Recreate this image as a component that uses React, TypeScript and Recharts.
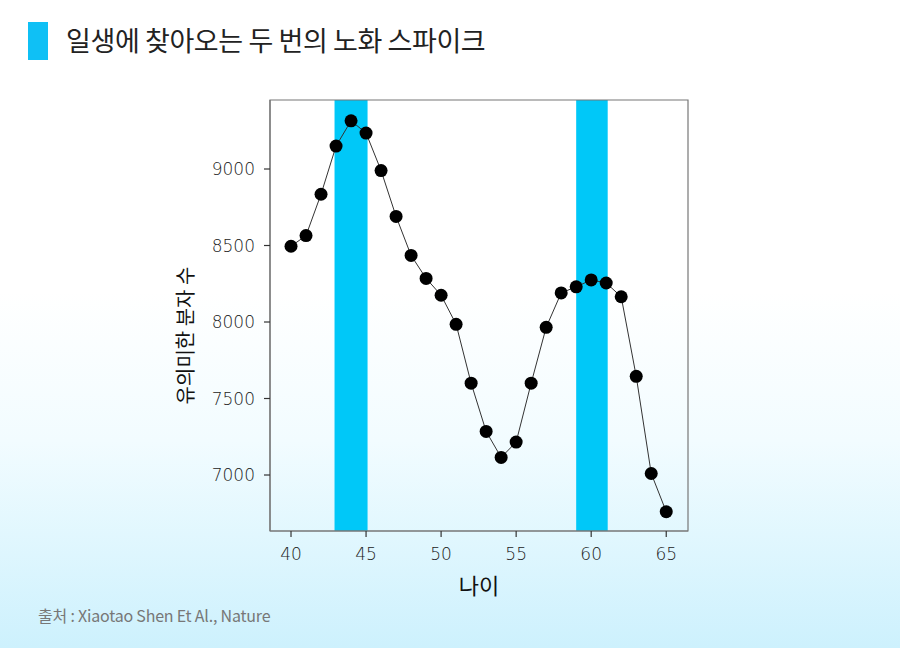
import React from 'react';
import {
  ComposedChart,
  Line,
  XAxis,
  YAxis,
  ReferenceArea,
} from 'recharts';

// ages on the x axis
const ages = [40, 41, 42, 43, 44, 45, 46, 47, 48, 49, 50, 51, 52, 53, 54, 55, 56, 57, 58, 59, 60, 61, 62, 63, 64, 65];
// number of significant molecules
const molecules = [
  8495, 8565, 8835, 9150, 9315, 9235, 8990, 8690, 8435, 8285, 8175, 7985, 7600,
  7285, 7115, 7215, 7600, 7965, 8190, 8230, 8275, 8255, 8165, 7645, 7010, 6760,
];
const xTicks = [40, 45, 50, 55, 60, 65];
const yTicks = [7000, 7500, 8000, 8500, 9000];
// the two aging spikes (age ranges)
const spikes: [number, number][] = [
  [42.9, 45.1],
  [59, 61.1],
];

const X_DOMAIN: [number, number] = [38.6, 66.45];
const Y_DOMAIN: [number, number] = [6634, 9451];

const data = ages.map((age, i) => ({ age, value: molecules[i] }));

const KR_FONT = '"Noto Sans CJK KR", "Noto Sans", sans-serif';
const TICK_FONT = '"DejaVu Sans", sans-serif';
const SPIKE_COLOR = '#00c8f8';

const YLabel = ({ viewBox }: any) => {
  const cx = viewBox.x - 26;
  const cy = viewBox.y + viewBox.height / 2 + 20;
  return (
    <text
      x={cx}
      y={cy}
      transform={`rotate(-90 ${cx} ${cy})`}
      textAnchor="middle"
      dominantBaseline="central"
      fill="#111"
      fontSize={20}
      fontFamily={KR_FONT}
    >
      유의미한 분자 수
    </text>
  );
};

const XLabel = ({ viewBox }: any) => {
  const cx = viewBox.x + viewBox.width / 2;
  return (
    <text
      x={cx}
      y={viewBox.y + 53}
      textAnchor="middle"
      dominantBaseline="central"
      fill="#111"
      fontSize={22}
      fontFamily={KR_FONT}
    >
      나이
    </text>
  );
};

export default function App() {
  return (
    <div
      style={{
        position: 'absolute',
        left: 0,
        top: 0,
        width: 900,
        height: 648,
        overflow: 'hidden',
        background: 'linear-gradient(to bottom, #ffffff 0%, #ffffff 45%, #f2fcff 68%, #cdf1fd 100%)',
      }}
    >
      {/* title */}
      <div
        style={{
          position: 'absolute',
          left: 28,
          top: 22,
          width: 20,
          height: 38,
          background: '#0fc0f5',
        }}
      />
      <div
        style={{
          position: 'absolute',
          left: 66,
          top: 21,
          height: 38,
          lineHeight: '38px',
          fontSize: 27,
          color: '#222',
          fontFamily: KR_FONT,
          letterSpacing: -0.4,
        }}
      >
        일생에 찾아오는 두 번의 노화 스파이크
      </div>

      <ComposedChart
        width={900}
        height={648}
        data={data}
        margin={{ top: 100, right: 212, bottom: 87, left: 210 }}
      >
        {spikes.map(([a, b]) => (
          <ReferenceArea
            key={a}
            x1={a}
            x2={b}
            fill={SPIKE_COLOR}
            fillOpacity={1}
            stroke="none"
          />
        ))}
        {/* plot frame */}
        <ReferenceArea
          x1={X_DOMAIN[0]}
          x2={X_DOMAIN[1]}
          y1={Y_DOMAIN[0]}
          y2={Y_DOMAIN[1]}
          fill="none"
          stroke="#777"
          strokeWidth={1.2}
        />
        <XAxis
          dataKey="age"
          type="number"
          domain={X_DOMAIN}
          ticks={xTicks}
          allowDataOverflow
          height={30}
          axisLine={{ stroke: '#777', strokeWidth: 1.2 }}
          tickLine={{ stroke: '#333', strokeWidth: 1.2 }}
          tickSize={6}
          tick={{ fill: '#222', fontSize: 17, fontFamily: TICK_FONT, fontWeight: 300 }}
          tickMargin={11}
          label={<XLabel />}
        />
        <YAxis
          type="number"
          domain={Y_DOMAIN}
          ticks={yTicks}
          allowDataOverflow
          width={60}
          axisLine={{ stroke: '#777', strokeWidth: 1.2 }}
          tickLine={{ stroke: '#333', strokeWidth: 1.2 }}
          tickSize={6}
          tick={{ fill: '#222', fontSize: 17, fontFamily: TICK_FONT, fontWeight: 300 }}
          tickMargin={9}
          label={<YLabel />}
        />
        <Line
          type="linear"
          dataKey="value"
          stroke="#333"
          strokeWidth={1}
          dot={{ r: 6.5, fill: '#000', stroke: '#000', strokeWidth: 0 }}
          activeDot={false}
          isAnimationActive={false}
        />
      </ComposedChart>

      {/* source */}
      <div
        style={{
          position: 'absolute',
          left: 38,
          top: 603,
          fontSize: 16,
          color: '#777',
          fontFamily: KR_FONT,
          letterSpacing: -0.2,
          whiteSpace: 'nowrap',
        }}
      >
        출처 : Xiaotao Shen Et Al., Nature
      </div>
    </div>
  );
}
